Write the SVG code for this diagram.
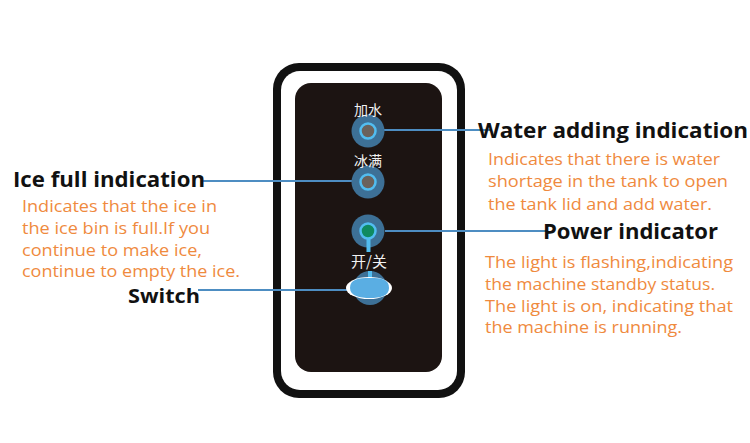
<svg xmlns="http://www.w3.org/2000/svg" width="750" height="443" viewBox="0 0 750 443">
<style>
.head{font-family:"Open Sans","Noto Sans","Liberation Sans",sans-serif;font-weight:700;font-size:21px;fill:#111}
.desc{font-family:"Open Sans","Noto Sans","Liberation Sans",sans-serif;font-size:16px;fill:#ef8a3e}
.cn{font-family:"Noto Sans CJK SC","Noto Sans",sans-serif;font-size:14px;fill:#f2f2f2;text-anchor:middle}
.conn{stroke:#4d8dc2;stroke-width:2;fill:none}
.halo{fill:#3d7096}
.ring{fill:#6a625c;stroke:#52bdf0;stroke-width:2.5}
</style>
<rect width="750" height="443" fill="#fff"/>
<g id="panel">
<rect x="273" y="63" width="192" height="335" rx="26" fill="#111"/>
<rect x="281" y="71" width="176" height="319" rx="19" fill="#fff"/>
<rect x="295" y="83" width="147" height="289" rx="16" fill="#1c1412"/>
</g>
<g id="connectors">
<line class="conn" x1="384" y1="130" x2="492" y2="130"/>
<line class="conn" x1="203" y1="181" x2="352" y2="181"/>
<line class="conn" x1="385" y1="231" x2="548" y2="231"/>
<line class="conn" x1="198" y1="290" x2="349" y2="290"/>
</g>
<g id="water-indicator">
<circle class="halo" cx="368" cy="131" r="16.5"/>
<circle class="ring" cx="368" cy="131" r="7.5"/>
<text class="cn" x="368" y="115">加水</text>
</g>
<g id="ice-indicator">
<circle class="halo" cx="368" cy="182" r="16.5"/>
<circle class="ring" cx="368" cy="182" r="7.5"/>
<text class="cn" x="368" y="166">冰满</text>
</g>
<g id="power-indicator">
<circle class="halo" cx="368" cy="231" r="16.5"/>
<circle class="ring" cx="368" cy="231" r="7.5" style="fill:#0f8a60"/>
<rect x="366.5" y="238" width="4" height="14" fill="#52bdf0"/>
</g>
<g id="switch">
<circle class="halo" cx="370" cy="288" r="17"/>
<rect x="368" y="271" width="4" height="9" fill="#52bdf0"/>
<ellipse cx="369" cy="288" rx="23" ry="11" fill="#fff"/>
<path d="M350 288 C350 279 358 278 370 278 C382 278 389 279 389 288 C389 296 380 298 370 298 C360 298 350 296 350 288 Z" fill="#5aaee3"/>
<text class="cn" x="369" y="267" style="font-size:15px">开/关</text>
</g>
<g id="water-label">
<text class="head" x="478" y="138" textLength="270" lengthAdjust="spacingAndGlyphs">Water adding indication</text>
<text class="desc" x="488" y="165" textLength="232" lengthAdjust="spacingAndGlyphs">Indicates that there is water</text>
<text class="desc" x="488" y="187" textLength="240" lengthAdjust="spacingAndGlyphs">shortage in the tank to open</text>
<text class="desc" x="488" y="210" textLength="224" lengthAdjust="spacingAndGlyphs">the tank lid and add water.</text>
</g>
<g id="ice-label">
<text class="head" x="13" y="187" textLength="192" lengthAdjust="spacingAndGlyphs">Ice full indication</text>
<text class="desc" x="22" y="212" textLength="195" lengthAdjust="spacingAndGlyphs">Indicates that the ice in</text>
<text class="desc" x="22" y="234" textLength="188" lengthAdjust="spacingAndGlyphs">the ice bin is full.If you</text>
<text class="desc" x="22" y="256" textLength="180" lengthAdjust="spacingAndGlyphs">continue to make ice,</text>
<text class="desc" x="22" y="277" textLength="218" lengthAdjust="spacingAndGlyphs">continue to empty the ice.</text>
</g>
<g id="power-label">
<text class="head" x="543" y="239" textLength="175" lengthAdjust="spacingAndGlyphs">Power indicator</text>
<text class="desc" x="485" y="268" textLength="248" lengthAdjust="spacingAndGlyphs">The light is flashing,indicating</text>
<text class="desc" x="485" y="290" textLength="230" lengthAdjust="spacingAndGlyphs">the machine standby status.</text>
<text class="desc" x="485" y="312" textLength="248" lengthAdjust="spacingAndGlyphs">The light is on, indicating that</text>
<text class="desc" x="485" y="333" textLength="197" lengthAdjust="spacingAndGlyphs">the machine is running.</text>
</g>
<g id="switch-label">
<text class="head" x="128" y="303" style="font-size:20px" textLength="72" lengthAdjust="spacingAndGlyphs">Switch</text>
</g>
</svg>
